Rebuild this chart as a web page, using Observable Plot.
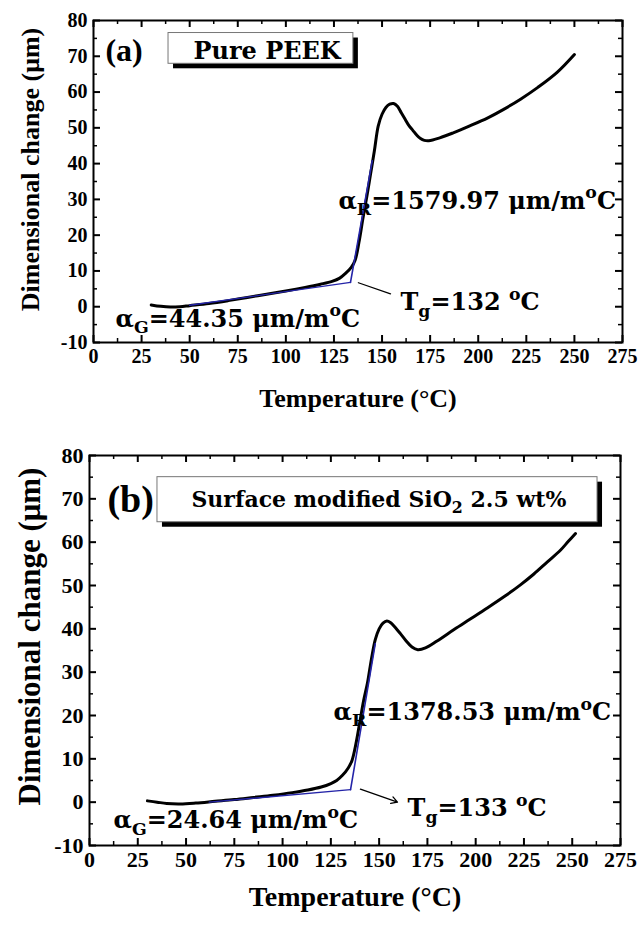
<!DOCTYPE html>
<html><head><meta charset="utf-8">
<script src="https://cdn.jsdelivr.net/npm/d3@7"></script>
<script src="https://cdn.jsdelivr.net/npm/@observablehq/plot@0.6"></script>
<style>
body{margin:0;background:#fff;}
svg{display:block;}
</style>
</head><body><div id="chart"></div>
<script>
// ---------- data ----------
const tempA = [30,35,40,45,50,60,70,80,90,100,110,118,124,128,131,134,136,138,140,142,144,146,148,150,152,154,156,158,160,162,164,166,168,170,172,174.3,180,187,195,205,213,222,231,241,250];
const dimA  = [0.5,0.1,-0.1,0,0.3,0.9,1.7,2.6,3.5,4.4,5.4,6.3,7.1,8.0,9.3,11,13,18,24.5,30.5,37,43.5,50.5,53.8,55.7,56.6,56.8,56,54.2,52.4,50.6,49.3,48,47,46.5,46.4,47.2,48.6,50.4,52.8,55.1,58,61.3,65.5,70.5];

const tempB = [30,35,40,47,55,65,75,85,95,105,113,120,125,128,131,134,136,138,140,142,144,146,148,150,152,154,156,158,161,164,167,170,174,180,189,197,206,215,223,230,237,244,248,251.7];
const dimB  = [0.3,0,-0.3,-0.4,-0.2,0.2,0.6,1.1,1.6,2.2,2.8,3.5,4.3,5.0,6.2,7.9,9.7,13.5,18.5,23.5,27.6,33,37.5,40,41.3,41.8,41.4,40.5,38.9,37.2,35.8,35.2,35.6,37.2,39.9,42.2,44.8,47.5,50.1,52.6,55.4,58.2,60.2,62];

// tangent (onset) lines: glassy and rubbery regions
const glassA_T = [50, 133.6],  glassA_D = [0.4, 6.8];
const rubberA_T = [133.6, 144.9], rubberA_D = [6.8, 40.8];
const glassB_T = [62, 135.2],  glassB_D = [0.0, 2.9];
const rubberB_T = [135.2, 148], rubberB_D = [2.9, 36.6];

// Tg pointer lines
const pointerA_T = [137.7, 154.4], pointerA_D = [6.7, 3.6];
const pointerB_T = [140.3, 159.5], pointerB_D = [3.0, 0.0];

// axis ticks
const xTicks = [0,25,50,75,100,125,150,175,200,225,250,275];
const yTicks = [-10,0,10,20,30,40,50,60,70,80];

// labels
const xTitle = "Temperature (°C)";
const yTitle = "Dimensional change (μm)";
const labelsA = {tag: "(a)", box: "Pure PEEK", aR: "α{_R}=1579.97 μm/m{^o}C", tg: "T{_g}=132 {^o}C", aG: "α{_G}=44.35 μm/m{^o}C"};
const labelsB = {tag: "(b)", box: "Surface modified SiO{_2} 2.5 wt%", aR: "α{_R}=1378.53 μm/m{^o}C", tg: "T{_g}=133 {^o}C", aG: "α{_G}=24.64 μm/m{^o}C"};

// annotation anchors (data coordinates)
const annotA = {tag:[6.2,71.5], box:[90.2,71.5], boxRect:[39,135.1,67.9,76.5], aR:[127.3,29.6], tg:[159.6,1.1], aG:[11.4,-3.4]};
const annotB = {tag:[9.3,69.7], box:[149.9,69.7], boxRect:[35.2,263.1,64.6,75.0], aR:[126.4,20.8], tg:[164.7,-1.4], aG:[12.4,-4.2]};

// ---------- drawing ----------
const serif = "'Liberation Serif','Times New Roman',serif";
const wide = "'DejaVu Serif',serif";
const blue = "#2424a8";

function zip(a, b) { return a.map((v, i) => ({x: v, y: b[i]})); }

function panel(c) {
  const innerW = 640 - c.ml - c.mr, innerH = c.height - c.mt - c.mb;
  const xMinor = xTicks.slice(0, -1).map((d, i) => (d + xTicks[i + 1]) / 2);
  const yMinor = yTicks.slice(0, -1).map((d, i) => (d + yTicks[i + 1]) / 2);
  const L = c.labels, A = c.annot;
  const r = A.boxRect;
  const boxData = [{x1: r[0], x2: r[1], y1: r[2], y2: r[3]}];
  const t = (p, s) => [{x: p[0], y: p[1], s}];
  return Plot.plot({
    width: 640, height: c.height,
    marginLeft: c.ml, marginRight: c.mr, marginTop: c.mt, marginBottom: c.mb,
    x: {domain: [0, 275]}, y: {domain: [-10, 80]},
    style: {fontFamily: serif, fontWeight: "bold", background: "white", color: "black"},
    marks: [
      // legend box with shadow
      Plot.rect(boxData, {x1: "x1", x2: "x2", y1: "y1", y2: "y2", fill: "black", dx: 5, dy: 5}),
      Plot.rect(boxData, {x1: "x1", x2: "x2", y1: "y1", y2: "y2", fill: "white", stroke: "#777", strokeWidth: 1}),
      // data
      Plot.line(zip(c.T, c.D), {x: "x", y: "y", stroke: "black", strokeWidth: 3, curve: "catmull-rom"}),
      Plot.line(zip(c.gT, c.gD), {x: "x", y: "y", stroke: blue, strokeWidth: 1.4}),
      Plot.line(zip(c.rT, c.rD), {x: "x", y: "y", stroke: blue, strokeWidth: 1.6}),
      Plot.arrow([{x1: c.pT[0], y1: c.pD[0], x2: c.pT[1], y2: c.pD[1]}], {x1: "x1", y1: "y1", x2: "x2", y2: "y2", stroke: "black", strokeWidth: 1.3, headLength: c.head, bend: 0}),
      // frame & ticks (inward, mirrored)
      Plot.frame({stroke: "black", strokeWidth: 2}),
      Plot.tickX(xTicks, {x: d => d, insetTop: innerH - 7, strokeWidth: 2}),
      Plot.tickX(xTicks, {x: d => d, insetBottom: innerH - 7, strokeWidth: 2}),
      Plot.tickX(xMinor, {x: d => d, insetTop: innerH - 4, strokeWidth: 1.5}),
      Plot.tickX(xMinor, {x: d => d, insetBottom: innerH - 4, strokeWidth: 1.5}),
      Plot.tickY(yTicks, {y: d => d, insetRight: innerW - 7, strokeWidth: 2}),
      Plot.tickY(yTicks, {y: d => d, insetLeft: innerW - 7, strokeWidth: 2}),
      Plot.tickY(yMinor, {y: d => d, insetRight: innerW - 4, strokeWidth: 1.5}),
      Plot.tickY(yMinor, {y: d => d, insetLeft: innerW - 4, strokeWidth: 1.5}),
      Plot.axisX({ticks: xTicks, tickSize: 0, tickPadding: 6, tickFormat: d => String(d), label: null, fontSize: c.tickFont, fontFamily: serif, fontWeight: "bold"}),
      Plot.axisY({ticks: yTicks, tickSize: 0, tickPadding: 6, tickFormat: d => String(d), label: null, fontSize: c.tickFont, fontFamily: serif, fontWeight: "bold"}),
      // axis titles
      Plot.text([xTitle], {text: d => d, frameAnchor: "bottom", textAnchor: "middle", lineAnchor: "middle", dy: c.xtDy, fontSize: c.xtFont, fontFamily: serif, fontWeight: "bold"}),
      Plot.text([yTitle], {text: d => d, frameAnchor: "left", textAnchor: "middle", lineAnchor: "middle", dx: c.ytDx, dy: c.ytDy, rotate: -90, fontSize: c.ytFont, fontFamily: serif, fontWeight: "bold"}),
      // annotations
      Plot.text(t(A.tag, L.tag), {x: "x", y: "y", text: "s", textAnchor: "start", fontSize: c.tagFont, fontFamily: serif, fontWeight: "bold"}),
      Plot.text(t(A.box, L.box), {x: "x", y: "y", text: "s", textAnchor: "middle", fontSize: c.boxFont, fontFamily: wide, fontWeight: "bold"}),
      Plot.text(t(A.aR, L.aR), {x: "x", y: "y", text: "s", textAnchor: "start", fontSize: c.annFont, fontFamily: wide, fontWeight: "bold"}),
      Plot.text(t(A.tg, L.tg), {x: "x", y: "y", text: "s", textAnchor: "start", fontSize: c.annFont, fontFamily: wide, fontWeight: "bold"}),
      Plot.text(t(A.aG, L.aG), {x: "x", y: "y", text: "s", textAnchor: "start", fontSize: c.annFont, fontFamily: wide, fontWeight: "bold"})
    ]
  });
}

// convert {_x} and {^x} markup into sub/superscript tspans
function richText(svg) {
  const ns = "http://www.w3.org/2000/svg";
  svg.querySelectorAll("text").forEach(t => {
    const s = t.textContent;
    if (!/\{[_^]/.test(s)) return;
    const F = parseFloat(getComputedStyle(t).fontSize) || 16;
    while (t.firstChild) t.removeChild(t.firstChild);
    const parts = [];
    const re = /\{([_^])([^}]*)\}/g;
    let last = 0, m;
    while ((m = re.exec(s))) {
      if (m.index > last) parts.push({txt: s.slice(last, m.index), kind: ""});
      parts.push({txt: m[2], kind: m[1]});
      last = re.lastIndex;
    }
    if (last < s.length) parts.push({txt: s.slice(last), kind: ""});
    let cur = 0;
    for (const p of parts) {
      const ts = document.createElementNS(ns, "tspan");
      const target = p.kind === "_" ? 0.28 * F : p.kind === "^" ? -0.42 * F : 0;
      if (target !== cur) ts.setAttribute("dy", (target - cur).toFixed(2));
      cur = target;
      if (p.kind) ts.setAttribute("font-size", (0.72 * F).toFixed(1));
      ts.textContent = p.txt;
      t.appendChild(ts);
    }
  });
}

const chart = document.getElementById("chart");
const pa = panel({height: 420, ml: 93, mr: 18, mt: 20, mb: 78, T: tempA, D: dimA,
  gT: glassA_T, gD: glassA_D, rT: rubberA_T, rD: rubberA_D, pT: pointerA_T, pD: pointerA_D, head: 0,
  labels: labelsA, annot: annotA, tickFont: 20, xtFont: 26, xtDy: 56, ytFont: 26, ytDx: -63, ytDy: -12,
  tagFont: 32, boxFont: 24, annFont: 24});
const pb = panel({height: 513, ml: 89, mr: 20, mt: 35, mb: 88, T: tempB, D: dimB,
  gT: glassB_T, gD: glassB_D, rT: rubberB_T, rD: rubberB_D, pT: pointerB_T, pD: pointerB_D, head: 8,
  labels: labelsB, annot: annotB, tickFont: 22, xtFont: 28, xtDy: 52, ytFont: 31, ytDx: -59, ytDy: -14,
  tagFont: 38, boxFont: 22, annFont: 24});
chart.appendChild(pa);
chart.appendChild(pb);
richText(pa);
richText(pb);
</script>
</body></html>
